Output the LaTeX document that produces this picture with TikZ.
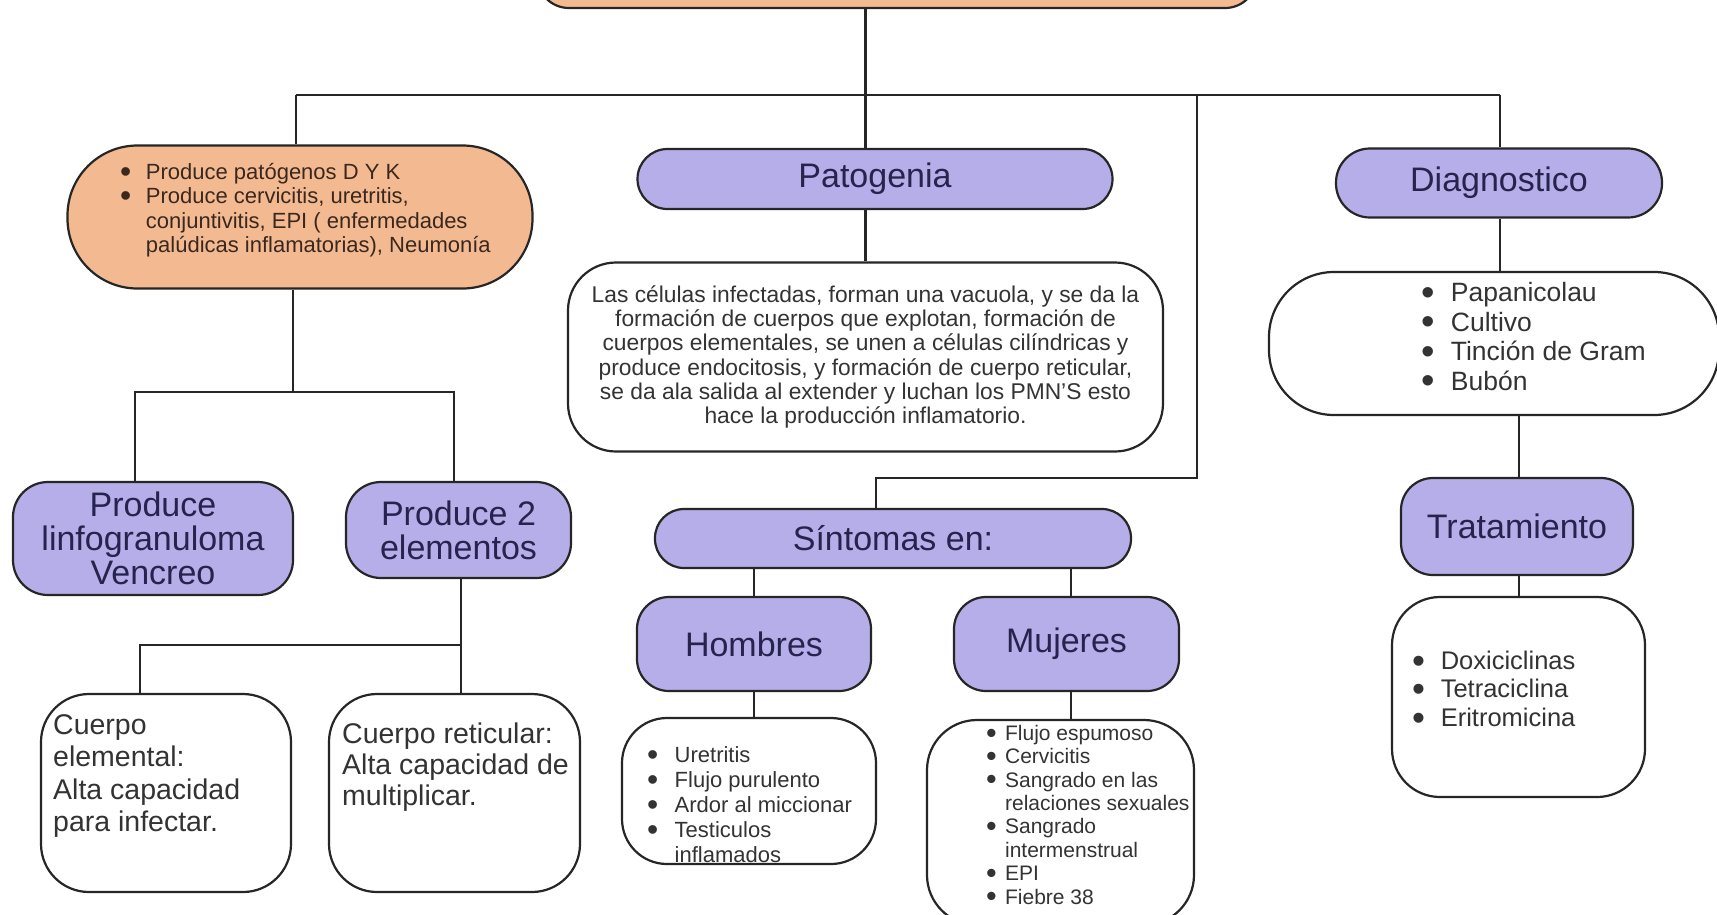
\documentclass[tikz,border=0pt]{standalone}
\usepackage{fontspec}
\setmainfont{Liberation Sans}
\usetikzlibrary{positioning}

\definecolor{peach}{RGB}{243,186,146}
\definecolor{lavender}{RGB}{181,174,232}
\definecolor{inkblue}{RGB}{38,36,78}
\definecolor{inkbrown}{RGB}{58,40,30}

% bullet and hanging indent for the lists
\newcommand{\itm}[1][1.05em]{\makebox[#1][l]{\raisebox{-0.14em}{\scalebox{1.45}{\textbullet}}}}
\newcommand{\cnt}[1][1.05em]{\hspace*{#1}}

\begin{document}
\begin{tikzpicture}[x=1pt, y=-1pt,
        conn/.style={line width=2.5pt, black!85},
        obox/.style={rectangle, draw=black!85, line width=2.2pt, fill=peach},
        pbox/.style={rectangle, draw=black!85, line width=2.2pt, fill=lavender, text=inkblue, align=center, font=\fontsize{34}{34}\selectfont},
        wbox/.style={rectangle, draw=black!85, line width=2.2pt, fill=white},
        txt/.style={inner sep=0pt, align=left, text=black!80}
    ]
    \clip (0,0) rectangle (1717,914);
    \fill[white] (0,0) rectangle (1717,914);

    % title box, cut by the top edge
    \node[obox, minimum width=720pt, minimum height=80pt, rounded corners=32pt] (titulo) at (897,-32) {};

    % left side
    \node[obox, minimum width=465pt, minimum height=143pt, rounded corners=70pt] (rasgos) at (300,217) {};
    \node[txt, anchor=west, text=inkbrown, font=\fontsize{22}{24.5}\selectfont] (rasgostxt) at (120,210)
        {\itm[1.17em]Produce patógenos D Y K\\ \itm[1.17em]Produce cervicitis, uretritis,\\ \cnt[1.17em]conjuntivitis, EPI ( enfermedades\\ \cnt[1.17em]palúdicas inflamatorias), Neumonía};
    \node[pbox, minimum width=280pt, minimum height=113pt, rounded corners=35pt] (linfo) at (153,538.5) {Produce\\linfogranuloma\\Vencreo};
    \node[pbox, minimum width=225pt, minimum height=96pt, rounded corners=35pt] (dos) at (458.5,530) {Produce 2\\elementos};
    \node[wbox, minimum width=250pt, minimum height=198pt, rounded corners=48pt] (celem) at (166,793) {};
    \node[txt, anchor=west, font=\fontsize{28.5}{32.5}\selectfont] (celemtxt) at (53,776) {Cuerpo\\elemental:\\Alta capacidad\\para infectar.};
    \node[wbox, minimum width=251pt, minimum height=198pt, rounded corners=48pt] (cret) at (454.5,793) {};
    \node[txt, anchor=west, font=\fontsize{28.5}{31}\selectfont] (crettxt) at (342,767) {Cuerpo reticular:\\Alta capacidad de\\multiplicar.};

    % middle
    \node[pbox, minimum width=475pt, minimum height=60pt, rounded corners=30pt] (pato) at (875,179) {Patogenia};
    \node[wbox, minimum width=595pt, minimum height=189pt, rounded corners=48pt, align=center, text=black!80, font=\fontsize{22.8}{24.3}\selectfont] (patotxt) at (865.5,357)
        {Las células infectadas, forman una vacuola, y se da la\\formación de cuerpos que explotan, formación de\\cuerpos elementales, se unen a células cilíndricas y\\produce endocitosis, y formación de cuerpo reticular,\\se da ala salida al extender y luchan los PMN’S esto\\hace la producción inflamatorio.};
    \node[pbox, minimum width=476pt, minimum height=59pt, rounded corners=29pt] (sint) at (893,538.5) {Síntomas en:};
    \node[pbox, minimum width=234pt, minimum height=94pt, rounded corners=32pt] (homb) at (754,644) {Hombres};
    \node[pbox, minimum width=225pt, minimum height=94pt, rounded corners=32pt] (muj) at (1066.5,644) {Mujeres};
    \node[wbox, minimum width=254pt, minimum height=146pt, rounded corners=45pt] (hlist) at (749,791) {};
    \node[txt, anchor=west, font=\fontsize{22}{25}\selectfont] (hlisttxt) at (647,804.5)
        {\itm[1.25em]Uretritis\\ \itm[1.25em]Flujo purulento\\ \itm[1.25em]Ardor al miccionar\\ \itm[1.25em]Testiculos\\ \cnt[1.25em]inflamados};
    \node[wbox, minimum width=267pt, minimum height=205pt, rounded corners=50pt] (mlist) at (1060.5,822.5) {};
    \node[txt, anchor=west, font=\fontsize{21}{23.4}\selectfont] (mlisttxt) at (986,816)
        {\itm[0.9em]Flujo espumoso\\ \itm[0.9em]Cervicitis\\ \itm[0.9em]Sangrado en las\\ \cnt[0.9em]relaciones sexuales\\ \itm[0.9em]Sangrado\\ \cnt[0.9em]intermenstrual\\ \itm[0.9em]EPI\\ \itm[0.9em]Fiebre 38};

    % right side
    \node[pbox, minimum width=326pt, minimum height=69pt, rounded corners=34pt] (diag) at (1499,183) {Diagnostico};
    \node[wbox, minimum width=450pt, minimum height=143pt, rounded corners=65pt] (diaglist) at (1494,343.5) {};
    \node[txt, anchor=west, font=\fontsize{26.5}{29.5}\selectfont] (diagtxt) at (1421,338)
        {\itm[1.12em]Papanicolau\\ \itm[1.12em]Cultivo\\ \itm[1.12em]Tinción de Gram\\ \itm[1.12em]Bubón};
    \node[pbox, minimum width=232pt, minimum height=97pt, rounded corners=32pt] (trat) at (1517,526.5) {Tratamiento};
    \node[wbox, minimum width=253pt, minimum height=200pt, rounded corners=48pt] (tratlist) at (1518.5,697) {};
    \node[txt, anchor=west, font=\fontsize{25.5}{28.5}\selectfont] (trattxt) at (1412,690.5)
        {\itm[1.12em]Doxiciclinas\\ \itm[1.12em]Tetraciclina\\ \itm[1.12em]Eritromicina};

    % connectors
    \coordinate (busL) at (296,95);
    \coordinate (busR) at (1500,95);
    \coordinate (sintK) at (1197,95);
    \coordinate (sintJ) at (1197,478);
    \coordinate (sintE) at (876,478);
    \coordinate (ramaA) at (135,392);
    \coordinate (ramaB) at (454,392);
    \coordinate (ramaM) at (293,392);
    \coordinate (ramaC) at (461,645);
    \coordinate (ramaD) at (140,645);
    \coordinate (mujX) at (1071,568);

    \draw[conn] (titulo.south -| patotxt.north) -- (pato.north -| patotxt.north);
    \draw[conn] (pato.south -| patotxt.north) -- (patotxt.north);
    \draw[conn] (busL) -- (busR);
    \draw[conn] (busL) -- (busL |- rasgos.north);
    \draw[conn] (busR) -- (busR |- diag.north);
    \draw[conn] (sintK) -- (sintJ) -- (sintE) -- (sintE |- sint.north);
    \draw[conn] (rasgos.south -| ramaM) -- (ramaM);
    \draw[conn] (ramaA |- linfo.north) -- (ramaA) -- (ramaB) -- (ramaB |- dos.north);
    \draw[conn] (dos.south -| ramaC) -- (ramaC |- cret.north);
    \draw[conn] (ramaC) -- (ramaD) -- (ramaD |- celem.north);
    \draw[conn] (sint.south -| homb.north) -- (homb.north);
    \draw[conn] (mujX) -- (mujX |- muj.north);
    \draw[conn] (homb.south) -- (homb.south |- hlist.north);
    \draw[conn] (muj.south -| mujX) -- (mujX |- mlist.north);
    \draw[conn] (diag.south -| busR) -- (busR |- diaglist.north);
    \draw[conn] (diaglist.south -| 1519,0) -- (1519,0 |- trat.north);
    \draw[conn] (trat.south -| 1519,0) -- (1519,0 |- tratlist.north);
\end{tikzpicture}
\end{document}
